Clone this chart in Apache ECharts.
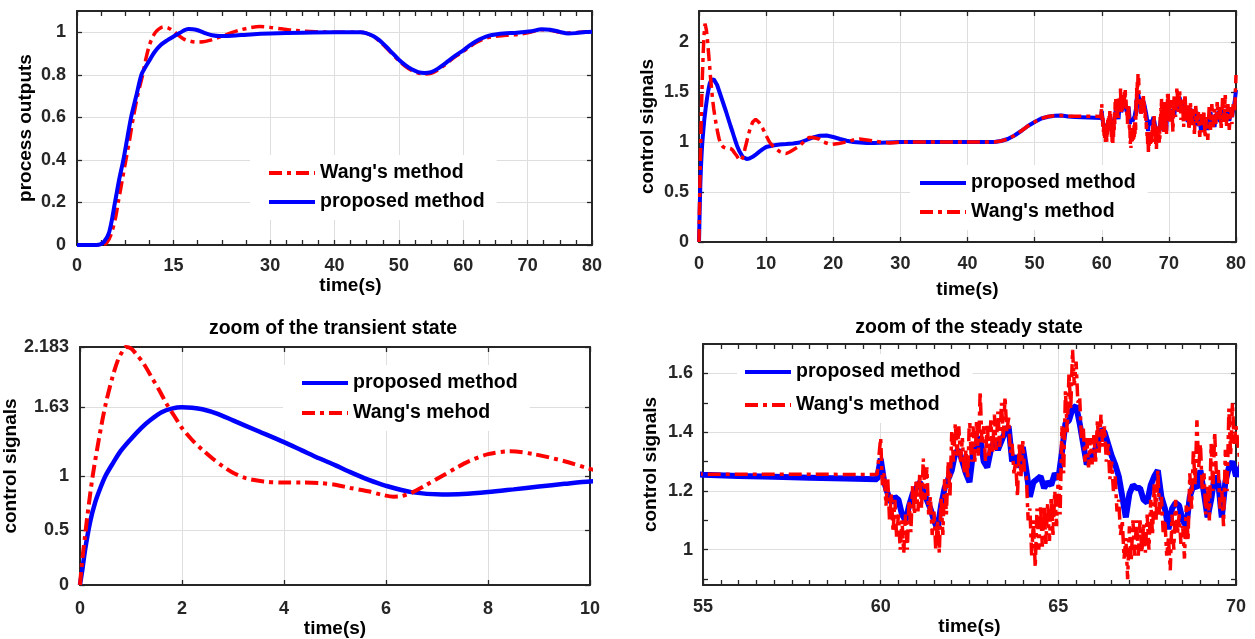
<!DOCTYPE html>
<html>
<head>
<meta charset="utf-8">
<title>process outputs and control signals</title>
<script src="https://cdn.jsdelivr.net/npm/echarts@6/dist/echarts.min.js"></script>
<style>
  html, body { margin: 0; padding: 0; background: #fff; }
  #chart { width: 1255px; height: 639px; }
</style>
</head>
<body>
<div id="chart"></div>
<script>
// ---------- process outputs (top-left panel) ----------
const outTimeProposed = [0, 3, 3.6, 4.2, 5, 5.9, 6.5, 7.2, 7.8, 8.4, 9.2, 10, 10.6, 11.2, 12, 13, 14, 15, 16, 17.3,
  18.5, 20, 21, 22.2, 24, 27, 30, 35, 40, 44, 45, 46, 47, 48, 49, 50, 51, 52, 53, 54, 55, 56, 57, 58, 59, 60,
  61, 62, 63, 64, 65, 66.7, 68, 69, 70.6, 72.2, 73.5, 75, 76.3, 77.5, 79, 80];
const outProposed = [0, 0, 0.003, 0.015, 0.06, 0.2, 0.3, 0.4, 0.5, 0.6, 0.7, 0.8, 0.835, 0.865, 0.905, 0.94, 0.962, 0.98, 0.998, 1.015,
  1.012, 0.995, 0.986, 0.982, 0.984, 0.99, 0.994, 0.998, 1.0, 1.0, 0.995, 0.982, 0.962, 0.933, 0.902, 0.871, 0.846, 0.826, 0.813, 0.809, 0.813, 0.828, 0.849, 0.873, 0.895, 0.915,
  0.938, 0.958, 0.973, 0.984, 0.99, 0.995, 0.997, 1.0, 1.005, 1.014, 1.012, 1.002, 0.994, 0.996, 1.001, 1.003];

const outTimeWang = [0, 3, 4, 4.6, 5.3, 6.0, 6.4, 7.0, 7.6, 8.2, 8.75, 9.4, 10.2, 10.7, 11.2, 11.7, 12.2, 12.7, 13.4, 14.2,
  15, 15.8, 16.6, 17.6, 18.6, 19.6, 20.6, 21.6, 22.6, 24, 25.5, 27, 28.4, 30, 32, 34, 37, 40, 44,
  45, 46, 47, 48, 49, 50, 51, 52, 53, 54, 55, 56, 57, 58, 59, 60, 61, 62, 63, 64, 65,
  66, 67, 68, 69, 70, 71, 72.2, 73.5, 75, 76.3, 77.5, 79, 80];
const outWang = [0, 0, 0.002, 0.01, 0.05, 0.13, 0.2, 0.3, 0.4, 0.5, 0.6, 0.7, 0.8, 0.875, 0.935, 0.975, 1.0, 1.015, 1.025, 1.02,
  1.005, 0.985, 0.968, 0.958, 0.954, 0.955, 0.962, 0.972, 0.982, 0.998, 1.012, 1.022, 1.027, 1.023, 1.015, 1.008, 1.003, 1.0, 1.0,
  0.995, 0.98, 0.958, 0.928, 0.897, 0.866, 0.84, 0.82, 0.808, 0.804, 0.807, 0.822, 0.843, 0.868, 0.89, 0.91, 0.932, 0.952, 0.966, 0.976, 0.981,
  0.984, 0.986, 0.988, 0.992, 0.998, 1.005, 1.012, 1.01, 1.0, 0.996, 0.998, 1.002, 1.003];

// ---------- control signals, 0 – 59.9 s ----------
const ctrlTimeProposed = [0, 0.05, 0.1, 0.2, 0.3, 0.4, 0.5, 0.65, 0.8, 1.0, 1.2, 1.4, 1.6, 1.8, 2.0, 2.2, 2.4, 2.7, 3.0, 3.5,
  4.0, 4.35, 4.7, 5.0, 5.3, 5.65, 6.0, 6.5, 7.1, 7.5, 8.0, 8.5, 9.0, 9.5, 10, 11, 12, 13, 14, 15,
  16, 17, 18, 19, 20, 21, 22, 23, 24, 25, 26, 28, 30, 35, 40, 44, 45, 46, 47, 48,
  49, 50, 51, 52, 53, 54, 55, 56, 57, 58, 59, 59.9];
const ctrlProposed = [0, 0.15, 0.32, 0.58, 0.76, 0.89, 1.0, 1.12, 1.23, 1.34, 1.44, 1.52, 1.585, 1.618, 1.63, 1.626, 1.612, 1.57, 1.51, 1.41,
  1.31, 1.235, 1.16, 1.1, 1.035, 0.966, 0.91, 0.852, 0.83, 0.834, 0.852, 0.877, 0.903, 0.928, 0.95, 0.965, 0.975, 0.98, 0.986, 0.995,
  1.02, 1.045, 1.062, 1.065, 1.05, 1.03, 1.012, 1.0, 0.995, 0.991, 0.99, 0.995, 1.0, 1.0, 1.0, 1.0, 1.01, 1.03, 1.065, 1.11,
  1.16, 1.2, 1.235, 1.253, 1.262, 1.264, 1.255, 1.251, 1.248, 1.245, 1.242, 1.24];

const ctrlTimeWang = [0, 0.05, 0.1, 0.15, 0.25, 0.38, 0.5, 0.64, 0.75, 0.83, 0.9, 1.0, 1.1, 1.25, 1.4, 1.55, 1.7, 1.85, 2.0, 2.2,
  2.4, 2.6, 2.8, 3.0, 3.25, 3.6, 4.0, 4.35, 4.7, 5.0, 5.3, 5.65, 5.9, 6.15, 6.3, 6.5, 6.8, 7.1, 7.4, 7.6,
  8.0, 8.44, 8.9, 9.5, 10, 10.5, 11, 11.5, 12, 12.5, 13, 13.5, 14, 15, 15.7, 16.4, 17, 17.9, 18.5, 19.2,
  19.9, 20.8, 21.9, 23, 23.9, 25, 26, 27, 28.4, 30, 35, 40, 44, 45, 46, 47, 48, 49, 50, 51,
  52, 53, 54, 55, 57, 59.9];
const ctrlWang = [0, 0.25, 0.45, 0.65, 1.0, 1.36, 1.65, 1.91, 2.07, 2.14, 2.183, 2.17, 2.12, 2.03, 1.91, 1.79, 1.66, 1.55, 1.44, 1.33,
  1.24, 1.16, 1.09, 1.03, 0.98, 0.95, 0.94, 0.94, 0.935, 0.92, 0.89, 0.86, 0.83, 0.81, 0.815, 0.845, 0.92, 1.0, 1.08, 1.13,
  1.2, 1.226, 1.2, 1.135, 1.065, 1.0, 0.96, 0.93, 0.905, 0.89, 0.885, 0.9, 0.92, 0.96, 1.01, 1.045, 1.045, 1.03, 1.0, 0.985,
  0.977, 0.985, 1.0, 1.02, 1.03, 1.02, 1.01, 1.0, 0.99, 1.0, 1.0, 1.0, 1.0, 1.01, 1.03, 1.065, 1.11, 1.16, 1.2, 1.235,
  1.255, 1.262, 1.265, 1.257, 1.257, 1.256];

// ---------- control signals under measurement noise ----------
// proposed method, 60.0 – 70.0 s, one sample every 0.1 s
const proposedNoiseA = { start: 60, step: 0.1 };
const ctrlProposedNoiseA = [
  1.31, 1.23, 1.19, 1.16, 1.18, 1.17, 1.12, 1.10, 1.15, 1.19,
  1.21, 1.23, 1.20, 1.17, 1.14, 1.10, 1.07, 1.15, 1.21, 1.24,
  1.27, 1.33, 1.34, 1.30, 1.26, 1.23, 1.33, 1.35, 1.385, 1.30,
  1.28, 1.34, 1.37, 1.34, 1.37, 1.40, 1.42, 1.30, 1.32, 1.28,
  1.35, 1.27, 1.18, 1.23, 1.24, 1.25, 1.21, 1.23, 1.22, 1.26,
  1.24, 1.33, 1.43, 1.44, 1.48, 1.49, 1.43, 1.36, 1.29, 1.31,
  1.33, 1.36, 1.41, 1.40, 1.36, 1.32, 1.29, 1.25, 1.18, 1.11,
  1.19, 1.22, 1.21, 1.21, 1.17, 1.16, 1.22, 1.25, 1.27, 1.18,
  1.14, 1.07, 1.14, 1.16, 1.15, 1.10, 1.08, 1.18, 1.22, 1.21,
  1.27, 1.19, 1.11, 1.17, 1.25, 1.23, 1.11, 1.23, 1.28, 1.30,
  1.25];
// Wang's method, 60.00 – 70.00 s, one sample every 0.05 s (fast chatter)
const wangNoiseA = { start: 60, step: 0.05 };
const ctrlWangNoiseA = [
  1.38, 1.22, 1.26, 1.15, 1.24, 1.10, 1.19, 1.06, 1.17, 1.04,
  1.12, 1.00, 1.10, 0.99, 1.12, 1.00, 1.17, 1.06, 1.22, 1.12,
  1.24, 1.13, 1.26, 1.14, 1.31, 1.17, 1.28, 1.12, 1.18, 1.05,
  1.13, 1.00, 1.10, 0.99, 1.18, 1.05, 1.24, 1.12, 1.30, 1.18,
  1.40, 1.30, 1.43, 1.32, 1.42, 1.30, 1.38, 1.26, 1.34, 1.24,
  1.46, 1.30, 1.42, 1.30, 1.44, 1.32, 1.54, 1.36, 1.42, 1.30,
  1.43, 1.32, 1.44, 1.33, 1.46, 1.34, 1.47, 1.35, 1.50, 1.38,
  1.52, 1.40, 1.45, 1.33, 1.36, 1.26, 1.30, 1.18, 1.36, 1.25,
  1.37, 1.26, 1.25, 1.10, 1.14, 0.98, 1.10, 0.94, 1.14, 1.00,
  1.15, 1.01, 1.15, 1.02, 1.16, 1.03, 1.18, 1.05, 1.20, 1.08,
  1.26, 1.12, 1.42, 1.26, 1.54, 1.40, 1.60, 1.48, 1.68, 1.56,
  1.64, 1.50, 1.52, 1.38, 1.42, 1.30, 1.38, 1.28, 1.38, 1.29,
  1.39, 1.30, 1.44, 1.33, 1.46, 1.35, 1.42, 1.30, 1.36, 1.24,
  1.30, 1.20, 1.25, 1.13, 1.17, 1.05, 1.10, 0.97, 1.04, 0.90,
  1.08, 0.96, 1.10, 0.98, 1.10, 0.98, 1.10, 0.99, 1.09, 0.99,
  1.12, 1.00, 1.17, 1.05, 1.23, 1.10, 1.27, 1.12, 1.18, 1.06,
  1.10, 0.98, 1.04, 0.93, 1.12, 1.00, 1.17, 1.05, 1.12, 1.02,
  1.08, 0.97, 1.15, 1.03, 1.26, 1.14, 1.34, 1.22, 1.44, 1.28,
  1.36, 1.20, 1.26, 1.12, 1.22, 1.10, 1.36, 1.20, 1.40, 1.25,
  1.28, 1.14, 1.20, 1.08, 1.34, 1.20, 1.48, 1.32, 1.50, 1.36,
  1.42];
// 70.2 – 80.0 s, one sample every 0.2 s
const noiseB = { start: 70.2, step: 0.2 };
const ctrlProposedNoiseB = [
  1.30, 1.22, 1.33, 1.27, 1.36, 1.31, 1.40, 1.45, 1.36, 1.30,
  1.38, 1.26, 1.33, 1.20, 1.28, 1.34, 1.22, 1.29, 1.17, 1.25,
  1.30, 1.16, 1.22, 1.10, 1.19, 1.25, 1.13, 1.20, 1.12, 1.24,
  1.30, 1.18, 1.26, 1.15, 1.28, 1.22, 1.31, 1.20, 1.27, 1.33,
  1.22, 1.30, 1.24, 1.35, 1.21, 1.29, 1.25, 1.33, 1.40, 1.52];
const ctrlWangNoiseB = [
  1.20, 1.42, 1.10, 1.48, 1.25, 1.55, 1.30, 1.52, 1.22, 1.45,
  1.15, 1.48, 1.20, 1.38, 1.12, 1.40, 1.15, 1.33, 1.08, 1.36,
  1.18, 1.30, 1.05, 1.28, 1.10, 1.32, 1.04, 1.25, 1.02, 1.35,
  1.12, 1.38, 1.15, 1.33, 1.18, 1.40, 1.20, 1.36, 1.14, 1.44,
  1.20, 1.47, 1.16, 1.38, 1.12, 1.35, 1.18, 1.40, 1.30, 1.67];

// ---------- axis ticks ----------
const outTicksX = [0, 15, 30, 40, 50, 60, 70, 80];
const outMinorX = [3.75, 7.5, 11.25, 18.75, 22.5, 26.25, 32.5, 35, 37.5, 42.5, 45, 47.5,
  52.5, 55, 57.5, 62.5, 65, 67.5, 72.5, 75, 77.5];
const outTicksY = [0, 0.2, 0.4, 0.6, 0.8, 1];
const ctrlTicksX = [0, 10, 20, 30, 40, 50, 60, 70, 80];
const ctrlTicksY = [0, 0.5, 1, 1.5, 2];
const transientTicksX = [0, 2, 4, 6, 8, 10];
const transientTicksY = [0, 0.5, 1, 1.63, 2.183];
const steadyTicksX = [55, 60, 65, 70];
const steadyMinorX = [55.5, 56, 56.5, 57, 57.5, 58, 58.5, 59, 59.5, 60.5, 61, 61.5, 62, 62.5, 63, 63.5, 64, 64.5,
  65.5, 66, 66.5, 67, 67.5, 68, 68.5, 69, 69.5];
const steadyTicksY = [1, 1.2, 1.4, 1.6];
const steadyMinorY = [0.9, 1.1, 1.3, 1.5];

// ---------- build series tables ----------
const pairs = (ts, vs) => ts.map((t, i) => [t, vs[i]]);
const sampled = (seg, vs) => vs.map((v, i) => [+(seg.start + i * seg.step).toFixed(2), v]);

const outProposedData = pairs(outTimeProposed, outProposed);
const outWangData = pairs(outTimeWang, outWang);
const ctrlProposedData = pairs(ctrlTimeProposed, ctrlProposed)
  .concat(sampled(proposedNoiseA, ctrlProposedNoiseA), sampled(noiseB, ctrlProposedNoiseB));
const ctrlWangData = pairs(ctrlTimeWang, ctrlWang)
  .concat(sampled(wangNoiseA, ctrlWangNoiseA), sampled(noiseB, ctrlWangNoiseB));

// ---------- styling ----------
const FONT = '"Liberation Sans", Arial, Helvetica, sans-serif';
const AXIS_COLOR = '#262626';
const GRID_COLOR = '#dedede';
const BLUE = '#0000ff';
const RED = '#ff0000';
const DASH_DOT = [13, 5, 4, 5];

const labelFont = { fontFamily: FONT, fontSize: 18, fontWeight: 'bold', color: AXIS_COLOR };
const nameFont = { fontFamily: FONT, fontSize: 19, fontWeight: 'bold', color: '#000' };

const grids = [
  { left: 77, top: 11, width: 515, height: 234 },
  { left: 699, top: 11, width: 537, height: 231 },
  { left: 77, top: 347, width: 513, height: 238 },
  { left: 703, top: 344, width: 533, height: 241 }
];

const xAxes = [];
const yAxes = [];

function tickStyle(values) {
  return { show: true, inside: true, length: 5, customValues: values,
           lineStyle: { color: AXIS_COLOR, width: 1.3 } };
}

// main axis: labels, major ticks, grid lines and the axis name
function mainAxis(g, a, position, name) {
  return {
    gridIndex: g, type: 'value', position: position, min: a.min, max: a.max,
    name: name, nameLocation: 'middle', nameGap: a.nameGap,
    nameTextStyle: Object.assign({ padding: a.namePad || 0 }, nameFont),
    axisLine: { show: true, onZero: false, lineStyle: { color: AXIS_COLOR, width: 2 } },
    axisTick: tickStyle(a.major),
    axisLabel: Object.assign({ show: true, customValues: a.major, margin: a.margin,
                               formatter: v => String(v) }, labelFont),
    splitLine: { show: true, lineStyle: { color: GRID_COLOR, width: 1 } },
    minorTick: { show: false }, minorSplitLine: { show: false }
  };
}
// opposite side of the box, with every tick pointing inward
function mirrorAxis(g, a, position) {
  return {
    gridIndex: g, type: 'value', position: position, min: a.min, max: a.max,
    axisLine: { show: true, onZero: false, lineStyle: { color: AXIS_COLOR, width: 2 } },
    axisTick: tickStyle(a.major.concat(a.minor || [])),
    axisLabel: { show: false }, splitLine: { show: false }
  };
}
// minor ticks on the labelled side
function minorAxis(g, a, position) {
  return {
    gridIndex: g, type: 'value', position: position, min: a.min, max: a.max,
    axisLine: { show: false, onZero: false },
    axisTick: tickStyle(a.minor),
    axisLabel: { show: false }, splitLine: { show: false }
  };
}

function addPanel(g, x, y) {
  const xi = xAxes.length, yi = yAxes.length;
  xAxes.push(mainAxis(g, x, 'bottom', 'time(s)'));
  xAxes.push(mirrorAxis(g, x, 'top'));
  if (x.minor) xAxes.push(minorAxis(g, x, 'bottom'));
  yAxes.push(mainAxis(g, y, 'left', y.name));
  yAxes.push(mirrorAxis(g, y, 'right'));
  if (y.minor) yAxes.push(minorAxis(g, y, 'left'));
  return { xi, yi };
}

const p1 = addPanel(0,
  { min: 0, max: 80, major: outTicksX, minor: outMinorX, margin: 12, nameGap: 30, namePad: [0, 0, 0, 32] },
  { min: 0, max: 1.1, major: outTicksY, margin: 11, nameGap: 42, name: 'process outputs' });
const p2 = addPanel(1,
  { min: 0, max: 80, major: ctrlTicksX, margin: 13, nameGap: 38 },
  { min: 0, max: 2.31, major: ctrlTicksY, margin: 10, nameGap: 42, name: 'control signals' });
const p3 = addPanel(2,
  { min: 0, max: 10, major: transientTicksX, margin: 15, nameGap: 30 },
  { min: 0, max: 2.183, major: transientTicksY, margin: 11, nameGap: 46, name: 'control signals' });
const p4 = addPanel(3,
  { min: 55, max: 70, major: steadyTicksX, minor: steadyMinorX, margin: 13, nameGap: 21 },
  { min: 0.88, max: 1.7, major: steadyTicksY, minor: steadyMinorY, margin: 10, nameGap: 43, name: 'control signals' });

function line(name, data, panel, color, width, dashed, smooth) {
  return {
    type: 'line', name: name, data: data,
    xAxisIndex: panel.xi, yAxisIndex: panel.yi,
    symbol: 'none', showSymbol: false, smooth: smooth ? 0.3 : false,
    clip: true, animation: false,
    itemStyle: { color: color },
    lineStyle: { color: color, width: width, type: dashed ? DASH_DOT : 'solid' }
  };
}

const transientProposed = ctrlProposedData.filter(d => d[0] <= 12);
const transientWang = ctrlWangData.filter(d => d[0] <= 12);

const series = [
  line("Wang's method", outWangData, p1, RED, 3.5, true, true),
  line('proposed method', outProposedData, p1, BLUE, 4, false, true),
  line('proposed method', ctrlProposedData, p2, BLUE, 4, false, false),
  line("Wang's method", ctrlWangData, p2, RED, 3.5, true, false),
  line('proposed method', transientProposed, p3, BLUE, 4.5, false, true),
  line("Wang's mehod", transientWang, p3, RED, 4, true, true),
  line('proposed method', ctrlProposedData, p4, BLUE, 6, false, false),
  line("Wang's method", ctrlWangData, p4, RED, 3.5, true, false)
];

function legendBox(names, left, top, gap, padLeft) {
  return {
    data: names, orient: 'vertical', left: left, top: top,
    itemWidth: 46, itemHeight: 14, itemGap: gap,
    padding: [8, 12, 8, padLeft], backgroundColor: '#ffffff',
    selectedMode: false,
    itemStyle: { opacity: 0 },
    lineStyle: { width: 4 },
    textStyle: { fontFamily: FONT, fontSize: 19.5, fontWeight: 'bold', color: '#000', lineHeight: 20 }
  };
}

const option = {
  animation: false,
  backgroundColor: '#ffffff',
  textStyle: { fontFamily: FONT },
  title: [
    { text: 'zoom of the transient state', left: 333, top: 319, textAlign: 'center', padding: 0,
      textStyle: { fontFamily: FONT, fontSize: 19.5, fontWeight: 'bold', color: '#000' } },
    { text: 'zoom of the steady state', left: 969, top: 318, textAlign: 'center', padding: 0,
      textStyle: { fontFamily: FONT, fontSize: 19.5, fontWeight: 'bold', color: '#000' } }
  ],
  grid: grids,
  xAxis: xAxes,
  yAxis: yAxes,
  legend: [
    legendBox(["Wang's method", 'proposed method'], 250, 155, 9, 17),
    legendBox(['proposed method', "Wang's method"], 910, 165, 9, 8),
    legendBox(['proposed method', "Wang's mehod"], 283, 365, 10, 17),
    legendBox(['proposed method', "Wang's method"], 737, 354, 13, 6)
  ],
  series: series
};

const chart = echarts.init(document.getElementById('chart'), null, { renderer: 'canvas' });
chart.setOption(option);
</script>
</body>
</html>
